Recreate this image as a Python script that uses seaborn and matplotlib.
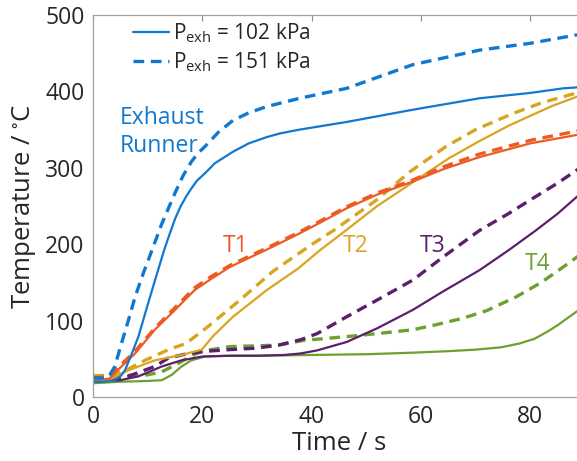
import numpy as np
import pandas as pd
import matplotlib
matplotlib.use("Agg")
import matplotlib.pyplot as plt
from matplotlib.lines import Line2D
import seaborn as sns

# ---------------- data ----------------
t_exh_102 = [0, 2, 4, 5, 5.85, 7, 8.3, 10.1, 11.9, 13, 14, 15, 16, 17, 18, 19, 20.5, 22.3, 25.6, 28.5, 31.7, 34.2, 37.8, 46.4, 58.5, 70.7, 80, 86, 90]
v_exh_102 = [20, 20, 22, 27, 35, 55, 79, 123, 166, 192, 213, 233, 249, 262, 273, 283, 293, 306, 321, 332, 340, 345, 350, 360, 376, 391, 398, 404, 406]

t_exh_151 = [0, 2, 3, 4, 5.2, 6.5, 7.7, 9.2, 10.1, 12.6, 15, 16.5, 18, 19.2, 20.5, 23, 25.6, 28.5, 31.7, 37.8, 46.4, 58.5, 70.7, 80, 88.5, 90]
v_exh_151 = [25, 25, 28, 40, 70, 101, 131, 162, 179, 227, 267, 290, 308, 319, 328, 347, 362, 372, 380, 391, 404, 435, 454, 463, 474, 476]

t_t1_102 = [0, 3, 4.5, 7.7, 11.3, 15, 18.6, 21.7, 25, 28.5, 31.8, 37.2, 41.5, 46.4, 52, 58.5, 64, 70.7, 80, 88.5, 90]
v_t1_102 = [22, 24, 35, 57, 88, 114, 140, 155, 170, 182, 193, 212, 228, 247, 265, 282, 298, 314, 332, 343, 346]

t_t1_151 = [0, 3, 4.5, 7.7, 11.3, 15, 18.6, 21.7, 25, 28.5, 31.8, 37.2, 41.5, 46.4, 52, 58.5, 64, 70.7, 80, 88.5, 90]
v_t1_151 = [25, 27, 38, 60, 90, 117, 143, 158, 172, 184, 195, 214, 230, 249, 267, 284, 301, 318, 336, 348, 351]

t_t2_102 = [0, 2.8, 6.5, 11.3, 16.2, 19.9, 22, 25.6, 31.8, 37.5, 41.5, 45.7, 52, 58.5, 65, 70.7, 76, 80, 84, 88.5, 90]
v_t2_102 = [22, 22, 35, 48, 55, 62, 80, 105, 140, 168, 192, 215, 250, 281, 312, 335, 355, 368, 381, 393, 397]

t_t2_151 = [0, 3, 6, 9.5, 13.8, 17, 21, 26.9, 33, 40.3, 44, 51.9, 58, 64.6, 70, 76.8, 82, 88.5, 90]
v_t2_151 = [28, 28, 35, 48, 62, 70, 92, 127, 165, 201, 218, 258, 295, 328, 350, 371, 385, 398, 401]

t_t3_102 = [0, 5, 8.3, 12.6, 16.2, 20, 25, 30, 35, 38, 41, 46.4, 52, 58.5, 64, 70.7, 76, 81, 85, 88.5, 90]
v_t3_102 = [20, 22, 27, 40, 48, 53, 54, 54, 55, 57, 61, 72, 90, 114, 138, 166, 192, 218, 240, 262, 270]

t_t3_151 = [0, 4, 6.4, 11.3, 13.8, 17.4, 21, 25, 30, 34, 38, 41, 46.4, 52, 58.5, 64, 70.7, 76, 80, 85, 88.5, 90]
v_t3_151 = [22, 23, 27, 40, 51, 57, 60, 62, 64, 68, 75, 83, 105, 127, 153, 183, 218, 240, 258, 280, 297, 304]

t_t4_102 = [0, 5, 10, 12.6, 14.4, 16.2, 18, 20.5, 25, 30, 40, 50, 58.5, 65, 70, 74.6, 78, 80.7, 83, 85, 88.5, 90]
v_t4_102 = [18, 20, 21, 22, 29, 40, 48, 53, 54, 54, 55, 56, 58, 60, 62, 65, 70, 76, 85, 94, 112, 120]

t_t4_151 = [0, 5, 10, 12.6, 15.6, 18, 20, 25, 30, 34, 38.4, 46.4, 52, 58.5, 63, 67.6, 72, 77.4, 82, 85, 88.5, 90]
v_t4_151 = [28, 28, 29, 33, 44, 54, 60, 66, 67, 68, 74, 79, 83, 88, 95, 103, 113, 131, 150, 165, 183, 190]

locations = ["Exhaust Runner", "T1", "T2", "T3", "T4"]
pressures = ["102 kPa", "151 kPa"]
loc_colors = ["#1178D0", "#EE5A24", "#D9A521", "#5C1F6E", "#6BA130"]
label_texts = ["Exhaust\nRunner", "T1", "T2", "T3", "T4"]
label_t = [4.9, 26.1, 48.1, 62.2, 81.4]
label_v = [347, 198, 198, 198, 174]
xticks = [0, 20, 40, 60, 80]
yticks = [0, 100, 200, 300, 400, 500]

series = {
    ("Exhaust Runner", "102 kPa"): (t_exh_102, v_exh_102),
    ("Exhaust Runner", "151 kPa"): (t_exh_151, v_exh_151),
    ("T1", "102 kPa"): (t_t1_102, v_t1_102),
    ("T1", "151 kPa"): (t_t1_151, v_t1_151),
    ("T2", "102 kPa"): (t_t2_102, v_t2_102),
    ("T2", "151 kPa"): (t_t2_151, v_t2_151),
    ("T3", "102 kPa"): (t_t3_102, v_t3_102),
    ("T3", "151 kPa"): (t_t3_151, v_t3_151),
    ("T4", "102 kPa"): (t_t4_102, v_t4_102),
    ("T4", "151 kPa"): (t_t4_151, v_t4_151),
}
frames = []
for (loc, p), (tt, vv) in series.items():
    frames.append(pd.DataFrame({"Time": tt, "Temp": vv, "Location": loc, "Pressure": p}))
df = pd.concat(frames, ignore_index=True)

# ---------------- style ----------------
sns.set_theme(style="white")
FONT = "Open Sans"
plt.rcParams["font.family"] = [FONT, "DejaVu Sans"]
plt.rcParams["mathtext.fontset"] = "custom"
plt.rcParams["mathtext.rm"] = FONT
plt.rcParams["mathtext.it"] = FONT
plt.rcParams["mathtext.default"] = "regular"

W, H = 577, 461
fig = plt.figure(figsize=(W / 100, H / 100), dpi=100)
ax = fig.add_axes([93 / W, (H - 397) / H, (585 - 93) / W, (397 - 15) / H])

palette = dict(zip(locations, loc_colors))
dash_map = {"102 kPa": "", "151 kPa": (3.2, 2.0)}
size_map = {"102 kPa": 1.6, "151 kPa": 2.4}

sns.lineplot(data=df, x="Time", y="Temp", hue="Location", style="Pressure",
             size="Pressure", hue_order=locations[::-1], palette=palette,
             dashes=dash_map, sizes=size_map, estimator=None, sort=False,
             legend=False, ax=ax)

ax.set_xlim(0, 90)
ax.set_ylim(0, 500)
ax.set_xticks(xticks)
ax.set_yticks(yticks)
ax.set_xlabel("Time / s", fontsize=18.5, color="#262626", labelpad=1)
ax.set_ylabel("Temperature / $^{\\circ}$C", fontsize=18.5, color="#262626", labelpad=5)
ax.tick_params(axis="both", which="both", direction="in", length=4, width=0.8,
               color="#8c8c8c", labelsize=16.5, labelcolor="#262626",
               top=True, right=True, pad=6)
for s in ax.spines.values():
    s.set_color("#a0a0a0")
    s.set_linewidth(0.9)
    s.set_visible(True)

for txt, tx, ty, col in zip(label_texts, label_t, label_v, loc_colors):
    ax.text(tx, ty, txt, color=col, fontsize=16.5, ha="left" if "\n" in txt else "center",
            va="center", linespacing=1.2)

handles = [Line2D([], [], color=loc_colors[0], lw=size_map[p],
                  dashes=(dash_map[p] if dash_map[p] else (None, None)))
           for p in pressures]
labels = ["P$_{\\mathrm{exh}}$ = " + p for p in pressures]
leg = ax.legend(handles, labels, loc="upper left", bbox_to_anchor=(0.055, 1.015),
                frameon=False, fontsize=15, handlelength=1.75, handletextpad=0.2,
                labelspacing=0.25, borderaxespad=0.2)
for t in leg.get_texts():
    t.set_color("#262626")

fig.savefig("out.png", dpi=100)
